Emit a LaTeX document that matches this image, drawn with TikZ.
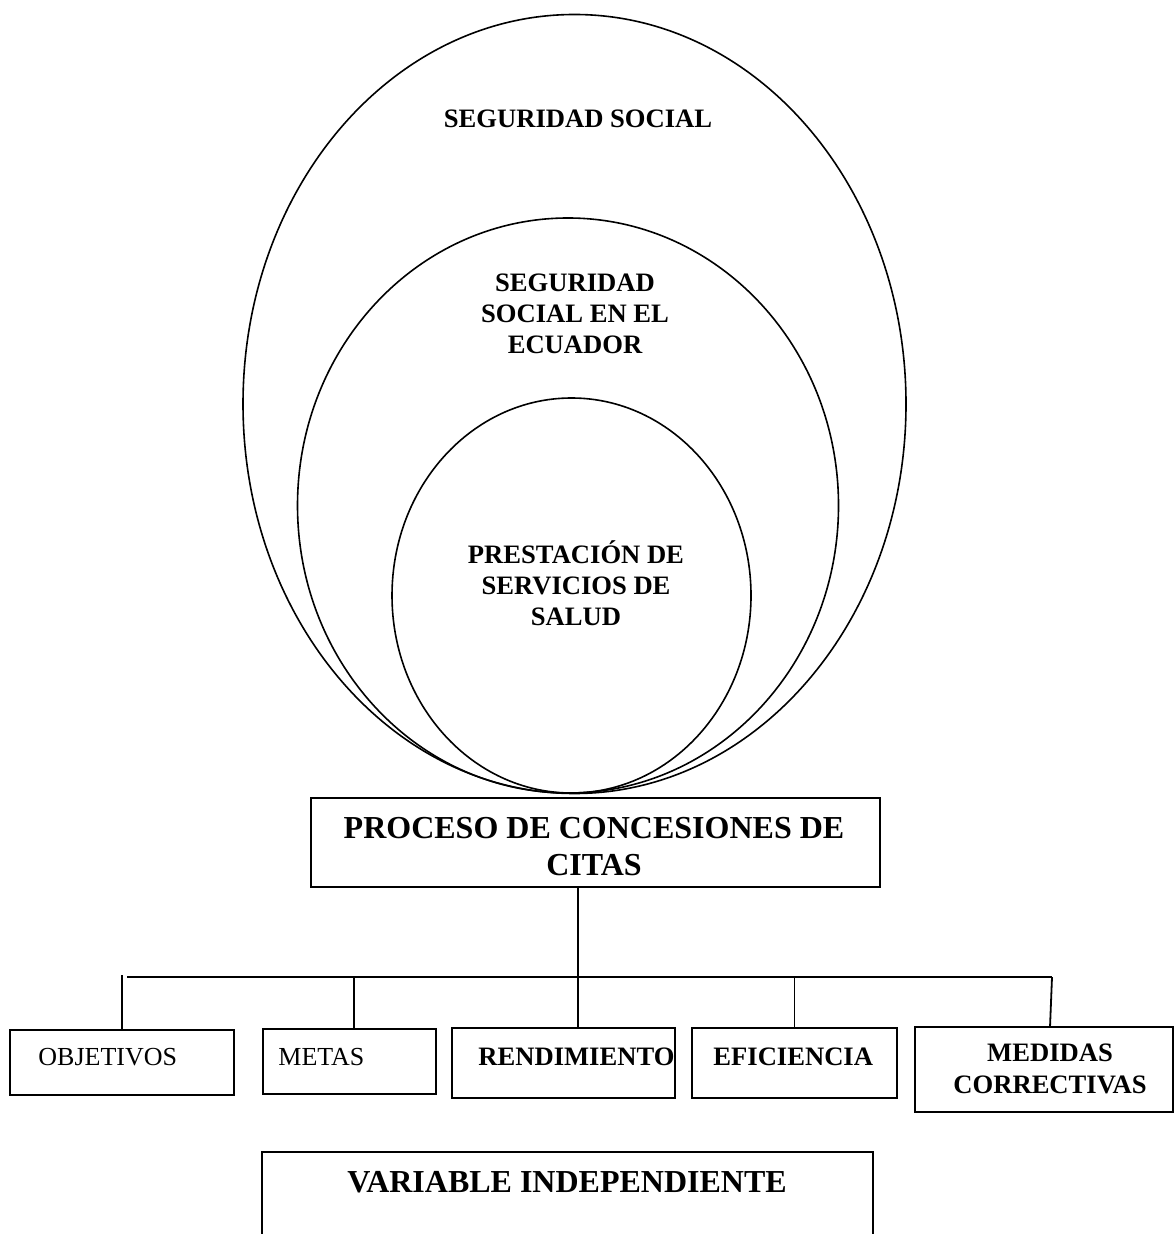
\documentclass[tikz,border=0pt]{standalone}
\usepackage{fontspec}
\setmainfont{Liberation Serif}
\usetikzlibrary{shapes.geometric}

\begin{document}
\begin{tikzpicture}[x=0.5pt, y=-0.5pt,
		ring/.style={ellipse, draw=black, line width=0.8pt, inner sep=0},
		boxnode/.style={rectangle, draw=black, line width=0.9pt, inner sep=0},
		boldtxt/.style={font=\bfseries\fontsize{13.3pt}{15.5pt}\selectfont, inner sep=0, align=center},
		bigtxt/.style={font=\bfseries\fontsize{16pt}{18.5pt}\selectfont, inner sep=0, align=center},
		plaintxt/.style={font=\fontsize{13pt}{15.5pt}\selectfont, inner sep=0},
		link/.style={draw=black, line width=0.9pt}]
			\useasboundingbox (0,0) rectangle (1175,1234);
			\clip (0,0) rectangle (1175,1234);

			% circulos
			\node[ring, minimum width=331.5pt, minimum height=389.5pt] (segsoc) at (574.5,404){};
			\node[ring, minimum width=270.5pt, minimum height=287.5pt] (segecu) at (568,505.5){};
			\node[ring, minimum width=179.5pt, minimum height=197.5pt] (salud) at (571.5,595.5){};
			\node[boldtxt, anchor=base] (segsoctxt) at (578,127.8){SEGURIDAD SOCIAL};
			\node[boldtxt] (segecutxt) at (575,314){SEGURIDAD\\SOCIAL EN EL\\ECUADOR};
			\node[boldtxt] (saludtxt) at (576,583){PRESTACIÓN DE\\SERVICIOS DE\\SALUD};

			% cajas
			\node[boxnode, minimum width=284.5pt, minimum height=44.5pt] (procbox) at (595.5,842.5){};
			\node[bigtxt] (proctxt) at (594,846.5){PROCESO DE CONCESIONES DE\\CITAS};
			\node[boxnode, minimum width=112pt,   minimum height=32.5pt] (objbox) at (122,1062.5){};
			\node[boxnode, minimum width=86.5pt,  minimum height=32.5pt] (metbox) at (349.5,1061.5){};
			\node[boxnode, minimum width=111.5pt, minimum height=35pt]   (renbox) at (563.5,1063){};
			\node[boxnode, minimum width=102.5pt, minimum height=35pt]   (efibox) at (794.5,1063){};
			\node[boxnode, minimum width=129pt,   minimum height=42.5pt] (medbox) at (1044,1069.5){};
			\node[boxnode, minimum width=305.5pt, minimum height=49pt]   (varbox) at (567.5,1201){};
			\node[plaintxt, anchor=base west] (objtxt) at (38,1065.6){OBJETIVOS};
			\node[plaintxt, anchor=base west] (mettxt) at (278,1065.6){METAS};
			\node[boldtxt, anchor=base west] (rentxt) at (478,1065.8){RENDIMIENTO};
			\node[boldtxt, anchor=base west] (efitxt) at (713,1065.8){EFICIENCIA};
			\node[boldtxt, font=\bfseries\fontsize{13.3pt}{16pt}\selectfont] (medtxt) at (1050,1069){MEDIDAS\\CORRECTIVAS};
			\node[bigtxt, anchor=base] (vartxt) at (567,1192.6){VARIABLE INDEPENDIENTE};

			% lineas
			\coordinate (hub) at (578,977);
			\coordinate (barL) at (127,977);
			\coordinate (barR) at (1052,977);
			\coordinate (objtap) at (122,975);
			\coordinate (mettap) at (354,977);
			\coordinate (medtop) at (1050,1027);
			\draw[link] (procbox.south -| hub) -- (hub);
			\draw[link] (barL) -- (barR);
			\draw[link] (objtap) -- (objbox.north);
			\draw[link] (mettap) -- (metbox.north -| mettap);
			\draw[link] (hub) -- (renbox.north -| hub);
			\draw[link] (efibox.north |- hub) -- (efibox.north);
			\draw[link] (barR) -- (medtop);

		\end{tikzpicture}
\end{document}
